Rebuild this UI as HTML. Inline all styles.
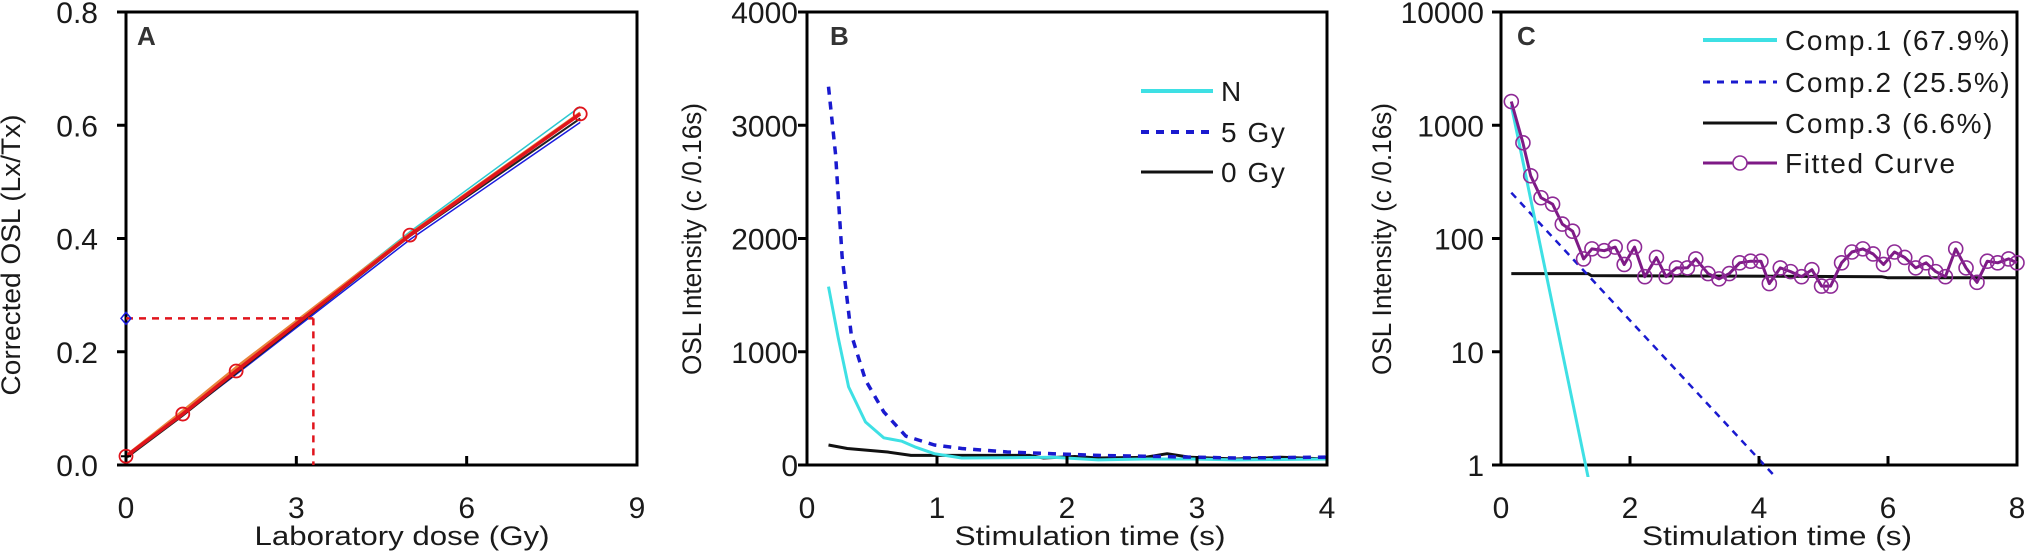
<!DOCTYPE html>
<html><head><meta charset="utf-8"><style>
html,body{margin:0;padding:0;background:#fff;}
svg{display:block;font-family:"Liberation Sans",Arial,sans-serif;}
.tick{font-size:30px;fill:#1a1a1a;}
.title{font-size:27px;fill:#1a1a1a;}
.leg{font-size:28px;fill:#1a1a1a;letter-spacing:1.6px;}
.plabel{font-size:26px;font-weight:bold;fill:#333;}
</style></head><body>
<svg id="fig" width="2031" height="551" viewBox="0 0 2031 551">
<g id="pA"></g>
<g id="pB"></g>
<g id="pC"></g>
</svg>
<script>
// Panel A data
const doseX = [0, 1, 1.94, 5, 8];
const lxRed = [0.0155, 0.09, 0.166, 0.406, 0.62];
const lxCyan = [0.012, 0.09, 0.168, 0.412, 0.633];
const lxBlue = [0.012, 0.088, 0.16, 0.398, 0.605];
const lxBlack = [0.012, 0.087, 0.162, 0.404, 0.612];
const lxOrange = [0.016, 0.095, 0.172, 0.408, 0.622];
const naturalLx = [0.259];
const equivDose = [3.3];
const aXTicks = [0, 3, 6, 9];
const aYTicks = ["0.0", "0.2", "0.4", "0.6", "0.8"];
// Panel B data
const bTimeN = [0.165, 0.24, 0.32, 0.45, 0.59, 0.73, 0.83, 0.98, 1.19, 1.89, 2.24, 2.6, 2.95, 3.3, 4];
const bN = [1575, 1125, 690, 380, 240, 210, 160, 100, 62, 68, 45, 53, 53, 45, 53];
const bTime5 = [0.165, 0.22, 0.27, 0.34, 0.45, 0.59, 0.76, 0.98, 1.19, 1.54, 1.89, 2.24, 2.95, 3.3, 4];
const b5Gy = [3340, 2740, 1840, 1155, 750, 470, 255, 177, 146, 115, 100, 85, 70, 62, 70];
const bTime0 = [0.165, 0.31, 0.62, 0.8, 1.19, 1.71, 1.82, 2.06, 2.24, 2.6, 2.77, 2.95, 3.3, 3.65, 4];
const b0Gy = [177, 146, 115, 85, 85, 85, 62, 75, 62, 68, 100, 68, 53, 68, 53];
const bXTicks = [0, 1, 2, 3, 4];
const bYTicks = [0, 1000, 2000, 3000, 4000];
// Panel C data
const cTime = [0.16,0.34,0.46,0.62,0.8,0.95,1.11,1.28,1.41,1.6,1.77,1.91,2.07,2.23,2.41,2.56,2.72,2.89,3.02,3.21,3.38,3.54,3.7,3.87,4.03,4.16,4.33,4.49,4.66,4.82,4.97,5.11,5.28,5.44,5.61,5.77,5.93,6.1,6.26,6.43,6.59,6.74,6.89,7.05,7.21,7.38,7.54,7.7,7.87,8.0];
const cFit = [1620,700,358,229,201,134,116,66,81,78,84,59,84,46,68,46,55,55,66,49,44,49,61,63,63,40,55,51,46,53,38,38,61,76,81,73,59,76,68,55,61,51,46,81,55,41,63,61,66,61];
const comp1T = [0.16, 1.35];
const comp1 = [1500, 0.78];
const comp2T = [0.16, 4.25];
const comp2 = [254, 0.79];
const comp3T = [0.16, 1.35, 1.4, 5.9, 6.0, 8.0];
const comp3 = [49, 49, 47, 46, 45, 45];
const cXTicks = [0, 2, 4, 6, 8];
const cYTicks = [1, 10, 100, 1000, 10000];

const NS = "http://www.w3.org/2000/svg";
function mk(parent, tag, attrs, text){
  const e = document.createElementNS(NS, tag);
  for (const k in attrs) e.setAttribute(k, attrs[k]);
  if (text !== undefined) e.textContent = text;
  parent.appendChild(e); return e;
}
const TOP = 12, BOT = 465;

function axesBox(g, x0, x1){
  const r = mk(g, 'rect', {x:x0, y:TOP, width:x1-x0, height:BOT-TOP, fill:'none', stroke:'#000', 'stroke-width':3});
  
  
}
function polyline(g, xs, ys, fx, fy, style, name){
  const pts = xs.map((x,i)=>fx(x).toFixed(1)+','+fy(ys[i]).toFixed(1)).join(' ');
  const p = mk(g, 'polyline', Object.assign({points:pts, fill:'none', 'stroke-linejoin':'round'}, style));
  
  
  return p;
}
function xTicks(g, ticks, fx, labels){
  ticks.forEach((t,i)=>{
    const x = fx(t);
    const l = mk(g, 'line', {x1:x, x2:x, y1:BOT, y2:BOT-9, stroke:'#000', 'stroke-width':3});
    
    
    const tx = mk(g, 'text', {x:x, y:518, 'text-anchor':'middle', class:'tick'}, labels ? labels[i] : String(t));
    
    
  });
}
function yTicks(g, vals, labels, fy, x0, lblRight){
  vals.forEach((v,i)=>{
    const y = fy(v);
    const l = mk(g, 'line', {x1:x0-9, x2:x0, y1:y, y2:y, stroke:'#000', 'stroke-width':3});
    
    
    const tx = mk(g, 'text', {x:lblRight, y:y+11, 'text-anchor':'end', class:'tick'}, labels[i]);
    
    
  });
}
function titles(g, xt, xcx, xw, yt, ycx, ycy, yw, plabel, px){
  const a = mk(g, 'text', {x:xcx, y:545, 'text-anchor':'middle', class:'title', textLength:xw, lengthAdjust:'spacingAndGlyphs'}, xt);
  
  
  const b = mk(g, 'text', {x:0, y:0, 'text-anchor':'middle', class:'title', textLength:yw, lengthAdjust:'spacingAndGlyphs', transform:'translate('+ycx+','+ycy+') rotate(-90)'}, yt);
  
  
  const c = mk(g, 'text', {x:px, y:45, class:'plabel'}, plabel);
  
  
}

// ---------- Panel A ----------
(function(){
  const g = document.getElementById('pA');
  const x0 = 126, x1 = 637;
  const fx = d => x0 + d*(x1-x0)/9;
  const fy = v => BOT - v*(BOT-TOP)/0.8;
  axesBox(g, x0, x1);
  polyline(g, doseX, lxBlue, fx, fy, {stroke:'#1a1adf','stroke-width':1.5}, 'fit-line-blue');
  polyline(g, doseX, lxCyan, fx, fy, {stroke:'#2cc8d0','stroke-width':1.5}, 'fit-line-cyan');
  polyline(g, doseX, lxBlack, fx, fy, {stroke:'#222','stroke-width':2}, 'fit-line-black');
  polyline(g, doseX, lxOrange, fx, fy, {stroke:'#e8833a','stroke-width':3}, 'fit-line-orange');
  polyline(g, doseX, lxRed, fx, fy, {stroke:'#e0141c','stroke-width':3.5}, 'fit-line-red');
  doseX.forEach((d,i)=>{
    const c = mk(g, 'circle', {cx:fx(d), cy:fy(lxRed[i]), r:6.5, fill:'none', stroke:'#e0141c','stroke-width':1.8});
    
    
  });
  const cr = mk(g, 'path', {d:`M${fx(0)-5},${fy(lxRed[0])} h10 M${fx(0)},${fy(lxRed[0])-5} v10`, stroke:'#000','stroke-width':2});
  
  
  const dh = mk(g, 'line', {x1:fx(0), x2:fx(equivDose[0]), y1:fy(naturalLx[0]), y2:fy(naturalLx[0]), stroke:'#e0141c','stroke-width':2.5,'stroke-dasharray':'7,6'});
  
  
  const dv = mk(g, 'line', {x1:fx(equivDose[0]), x2:fx(equivDose[0]), y1:fy(naturalLx[0]), y2:BOT, stroke:'#e0141c','stroke-width':2.5,'stroke-dasharray':'7,6'});
  
  
  const y = fy(naturalLx[0]), x = fx(0);
  const dm = mk(g, 'path', {d:`M${x-5},${y} L${x},${y-6} L${x+5},${y} L${x},${y+6} Z`, fill:'none', stroke:'#1a1adf','stroke-width':1.5});
  
  
  xTicks(g, aXTicks.slice(1,3), fx);
  const l0 = mk(g, 'text', {x:fx(0), y:518, 'text-anchor':'middle', class:'tick'}, '0');
  
  
  const l9 = mk(g, 'text', {x:fx(9), y:518, 'text-anchor':'middle', class:'tick'}, '9');
  
  
  yTicks(g, aYTicks.map(Number), aYTicks, fy, x0, 98);
  titles(g, 'Laboratory dose (Gy)', 402, 295, 'Corrected OSL (Lx/Tx)', 20, 255, 281, 'A', 137);
})();

// ---------- Panel B ----------
(function(){
  const g = document.getElementById('pB');
  const x0 = 807, x1 = 1327;
  const fx = t => x0 + t*(x1-x0)/4;
  const fy = v => BOT - v*(BOT-TOP)/4000;
  axesBox(g, x0, x1);
  polyline(g, bTime0, b0Gy, fx, fy, {stroke:'#111','stroke-width':3}, 'series-0gy');
  polyline(g, bTimeN, bN, fx, fy, {stroke:'#3ee0e4','stroke-width':3}, 'series-natural');
  polyline(g, bTime5, b5Gy, fx, fy, {stroke:'#1a1acf','stroke-width':3.5,'stroke-dasharray':'8,7'}, 'series-5gy');
  xTicks(g, bXTicks, fx);
  yTicks(g, bYTicks, bYTicks.map(String), fy, x0, 798);
  titles(g, 'Stimulation time (s)', 1090, 271, 'OSL Intensity (c /0.16s)', 701, 239, 272, 'B', 830);
  const leg = [['N', {stroke:'#3ee0e4','stroke-width':4}, 91], ['5 Gy', {stroke:'#1a1acf','stroke-width':4,'stroke-dasharray':'8,7'}, 132], ['0 Gy', {stroke:'#111','stroke-width':3}, 172]];
  leg.forEach(e=>{
    const l = mk(g, 'line', Object.assign({x1:1141, x2:1213, y1:e[2], y2:e[2]}, e[1]));
    
    
    const t = mk(g, 'text', {x:1221, y:e[2]+10, class:'leg'}, e[0]);
    
    
  });
})();

// ---------- Panel C ----------
(function(){
  const g = document.getElementById('pC');
  const x0 = 1501, x1 = 2017;
  const fx = t => x0 + t*(x1-x0)/8;
  const fy = v => BOT - Math.log10(v)*(BOT-TOP)/4;
  const defs = mk(g, 'defs', {});
  const cp = mk(defs, 'clipPath', {id:'clipC'});
  mk(cp, 'rect', {x:x0, y:TOP, width:x1-x0+10, height:BOT-TOP+12});
  axesBox(g, x0, x1);
  const inner = mk(g, 'g', {'clip-path':'url(#clipC)'});
  
  
  polyline(inner, comp3T, comp3, fx, fy, {stroke:'#111','stroke-width':3}, 'component-3-line');
  polyline(inner, comp2T, comp2, fx, fy, {stroke:'#1a1acf','stroke-width':2.5,'stroke-dasharray':'7,6'}, 'component-2-line');
  polyline(inner, comp1T, comp1, fx, fy, {stroke:'#3ee0e4','stroke-width':3}, 'component-1-line');
  polyline(inner, cTime, cFit, fx, fy, {stroke:'#7e1a86','stroke-width':3}, 'fitted-curve');
  cTime.forEach((t,i)=>{
    const c = mk(inner, 'circle', {cx:fx(t), cy:fy(cFit[i]), r:7, fill:'none', stroke:'#8e2a96','stroke-width':1.6});
    
    
  });
  xTicks(g, cXTicks, fx);
  yTicks(g, cYTicks, cYTicks.map(String), fy, x0, 1484);
  titles(g, 'Stimulation time (s)', 1777, 270, 'OSL Intensity (c /0.16s)', 1391, 239, 272, 'C', 1517);
  const leg = [['Comp.1 (67.9%)', {stroke:'#3ee0e4','stroke-width':4}, 40], ['Comp.2 (25.5%)', {stroke:'#1a1acf','stroke-width':3,'stroke-dasharray':'7,7'}, 82], ['Comp.3 (6.6%)', {stroke:'#111','stroke-width':3}, 123], ['Fitted Curve', {stroke:'#7e1a86','stroke-width':3}, 163]];
  leg.forEach((e,i)=>{
    const l = mk(g, 'line', Object.assign({x1:1703, x2:1777, y1:e[2], y2:e[2]}, e[1]));
    
    
    if (i === 3) {
      const c = mk(g, 'circle', {cx:1740, cy:e[2], r:7, fill:'#fff', stroke:'#8e2a96','stroke-width':1.6});
      
      
    }
    const t = mk(g, 'text', {x:1785, y:e[2]+10, class:'leg'}, e[0]);
    
    
  });
})();
</script>
</body></html>
